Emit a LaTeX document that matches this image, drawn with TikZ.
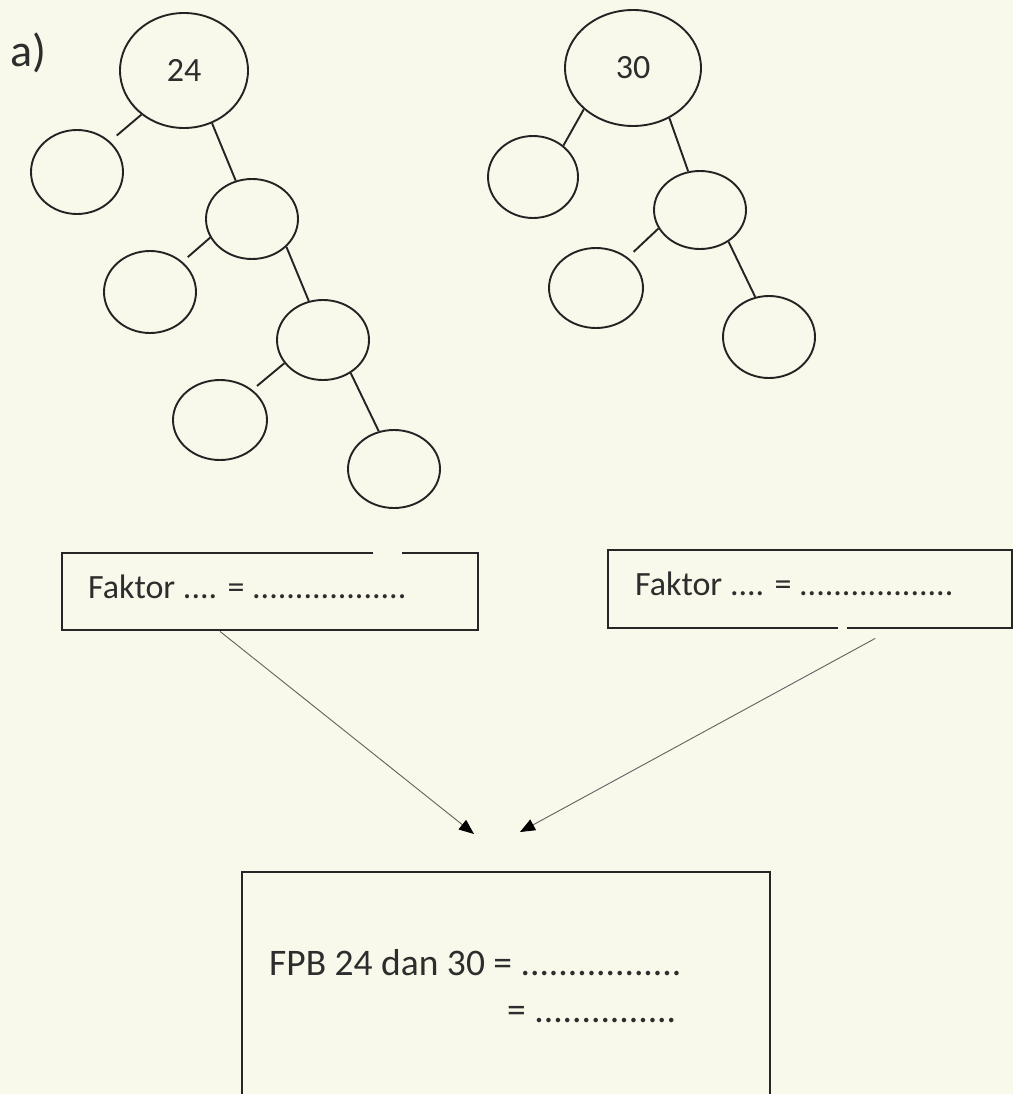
\documentclass[tikz,border=0pt]{standalone}
\usepackage{fontspec}
\setmainfont{Carlito}
\usetikzlibrary{shapes.geometric,arrows.meta,calc}
\definecolor{bg}{RGB}{248,249,234}
\definecolor{ink}{RGB}{35,35,35}
\definecolor{txt}{RGB}{45,45,45}
\begin{document}
\begin{tikzpicture}[x=1pt,y=-1pt,
  ell/.style={ellipse,draw=ink,line width=1.9pt,inner sep=0pt,font=\fontsize{34}{40}\selectfont,text=txt},
  link/.style={draw=ink,line width=1.9pt},
  fbox/.style={draw=black!85,line width=2.4pt,inner sep=0pt,anchor=north west},
  lbl/.style={font=\fontsize{34}{40}\selectfont,text=txt,inner sep=0pt,anchor=base west},
  blbl/.style={font=\fontsize{37.5}{44}\selectfont,text=txt,inner sep=0pt,anchor=base west},
  arr/.style={draw=gray!75!black,line width=0.9pt,-{Triangle[length=15pt,width=12pt,color=black]}}]
\useasboundingbox (0,0) rectangle (1013,1094);
\clip (0,0) rectangle (1013,1094);
\fill[bg] (0,0) rectangle (1013,1094);

% label
\node[font=\fontsize{46}{52}\selectfont,text=txt,inner sep=0pt,anchor=base west] (lab) at (10,67) {a)};

% left tree (24)
\node[ell,minimum width=128,minimum height=115] (r24) at (184,70.5) {24};
\node[ell,minimum width=92,minimum height=84] (a) at (77,172) {};
\node[ell,minimum width=92,minimum height=80] (b) at (252,219) {};
\node[ell,minimum width=92,minimum height=82] (c) at (150,292) {};
\node[ell,minimum width=92,minimum height=80] (d) at (323,340) {};
\node[ell,minimum width=94,minimum height=80] (e) at (220,420) {};
\node[ell,minimum width=92,minimum height=78] (f) at (394,469) {};
\draw[link,shorten >=9pt] (r24.226) -- (a.43);
\draw[link] (r24.298) -- (b.113);
\draw[link,shorten >=7pt] (b.204) -- (c.43);
\draw[link] (b.321) -- (d.110);
\draw[link,shorten >=6pt] (d.211) -- (e.43);
\draw[link] (d.310) -- (f.112);

% right tree (30)
\node[ell,minimum width=136,minimum height=116] (r30) at (633,68) {30};
\node[ell,minimum width=90,minimum height=82] (g) at (533,177) {};
\node[ell,minimum width=92,minimum height=78] (h) at (700,210) {};
\node[ell,minimum width=94,minimum height=80] (i) at (596,288) {};
\node[ell,minimum width=92,minimum height=82] (j) at (769,337) {};
\draw[link] (r30.220) -- (g.46);
\draw[link] (r30.306) -- (h.107);
\draw[link,shorten >=8pt] (h.204) -- (i.44);
\draw[link] (h.312) -- (j.109);

% factor boxes
\node[fbox,minimum width=416,minimum height=77] (fb1) at (61,552) {};
\node[fbox,minimum width=404,minimum height=78] (fb2) at (607,549) {};
\draw[bg,line width=4pt] (373,552) -- (402,552);
\draw[bg,line width=4pt] (838,627) -- (847,627);
\node[lbl] (t1) at (88,598) {Faktor .... = ..................};
\node[lbl] (t2) at (635,595) {Faktor .... = ..................};

% result box
\node[fbox,minimum width=528,minimum height=260] (res) at (241,871) {};
\node[blbl] (t3) at (269,975) {FPB 24 dan 30 = .................};
\node[blbl] (t4) at (507,1022) {= ...............};

% arrows
\coordinate (s1) at ($(fb1.south west)!0.38!(fb1.south east)$);
\coordinate (s2) at ($(fb2.south west)!0.66!(fb2.south east)+(0,9)$);
\coordinate (e1) at (474,834);
\coordinate (e2) at (520,832);
\draw[arr] (s1) -- (e1);
\draw[arr] (s2) -- (e2);
\end{tikzpicture}
\end{document}
